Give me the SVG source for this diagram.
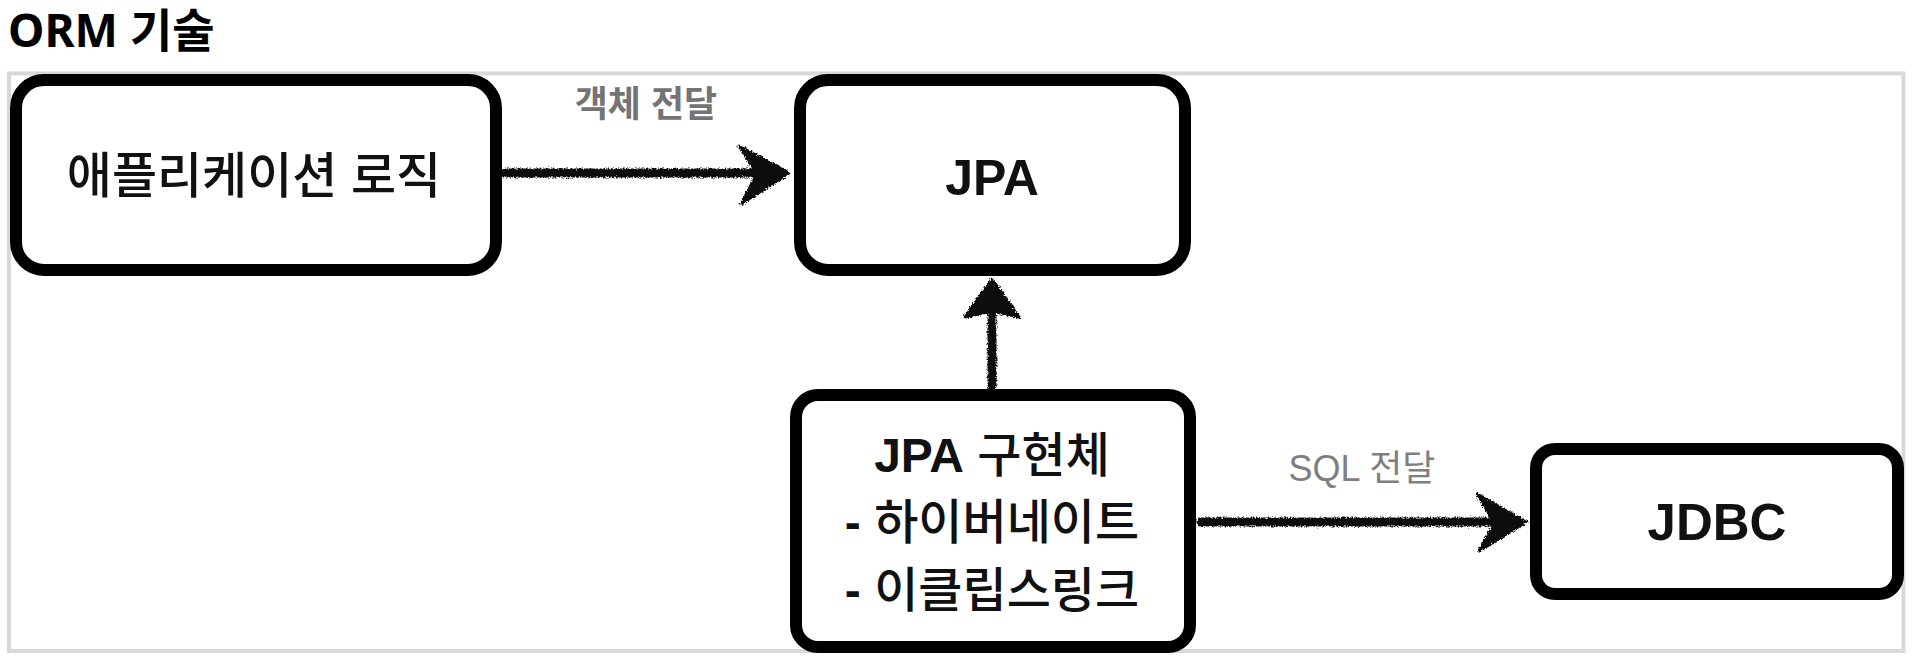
<svg xmlns="http://www.w3.org/2000/svg" width="1913" height="664" viewBox="0 0 1913 664">
  <defs>
    <filter id="rough" x="-10%" y="-10%" width="120%" height="120%">
      <feTurbulence type="fractalNoise" baseFrequency="0.6" numOctaves="2" seed="3" result="n"/>
      <feDisplacementMap in="SourceGraphic" in2="n" scale="5" xChannelSelector="R" yChannelSelector="G"/>
    </filter>
  </defs>
  <style>
    .frame { fill: #ffffff; stroke: #d8d8d8; stroke-width: 4; }
    .box { fill: #ffffff; stroke: #000000; stroke-width: 12; }
    .kr { font-family: "Liberation Sans", "Noto Sans CJK KR", sans-serif; fill: #111111; text-anchor: middle; }
    .lat { font-family: "Liberation Sans", "Noto Sans CJK KR", sans-serif; font-weight: bold; fill: #111111; text-anchor: middle; }
    .lbl { font-family: "Liberation Sans", "Noto Sans CJK KR", sans-serif; text-anchor: middle; }
    .line { stroke: #111111; stroke-width: 9; fill: none; stroke-linecap: round; }
    .head { fill: #111111; stroke: #111111; stroke-width: 3; stroke-linejoin: round; }
  </style>
  <rect width="1913" height="664" fill="#ffffff"/>
  <text x="8" y="47" font-family="Noto Sans, Noto Sans CJK KR, sans-serif" font-weight="bold" font-size="46" fill="#000000">ORM 기술</text>
  <rect class="frame" x="9" y="73.5" width="1894.5" height="577.5"/>

  <g id="connectors">
    <g filter="url(#rough)">
      <line class="line" x1="505" y1="173" x2="760" y2="173"/>
      <polygon class="head" points="739,146 789,173 741,204 757,174"/>
      <line class="line" x1="992" y1="386" x2="992" y2="305"/>
      <polygon class="head" points="992,279 1019,317 992,311 965,317"/>
      <line class="line" x1="1201" y1="522" x2="1500" y2="522"/>
      <polygon class="head" points="1477,494 1526,522 1479,551 1495,523"/>
    </g>
    <text class="lbl" x="646" y="117" font-size="36" font-weight="bold" fill="#747474">객체 전달</text>
    <text class="lbl" x="1362" y="481" font-size="36" fill="#7f7f7f">SQL 전달</text>
  </g>

  <g id="node-app">
    <rect class="box" x="16" y="80" width="480" height="190" rx="28"/>
    <text class="kr" x="254" y="193" font-size="49" font-weight="500">애플리케이션 로직</text>
  </g>
  <g id="node-jpa">
    <rect class="box" x="800" y="80" width="385" height="190" rx="28"/>
    <text class="lat" x="992" y="195" font-size="50">JPA</text>
  </g>
  <g id="node-impl">
    <rect class="box" x="796" y="395" width="394" height="252" rx="22"/>
    <text class="kr" x="992" y="472" font-size="48" font-weight="500"><tspan font-weight="bold">JPA</tspan> 구현체</text>
    <text class="kr" x="992" y="539" font-size="48" font-weight="500"><tspan font-weight="bold">-</tspan> 하이버네이트</text>
    <text class="kr" x="992" y="607" font-size="48" font-weight="500"><tspan font-weight="bold">-</tspan> 이클립스링크</text>
  </g>
  <g id="node-jdbc">
    <rect class="box" x="1536" y="449" width="362" height="145" rx="19"/>
    <text class="lat" x="1717" y="540" font-size="51">JDBC</text>
  </g>
</svg>
